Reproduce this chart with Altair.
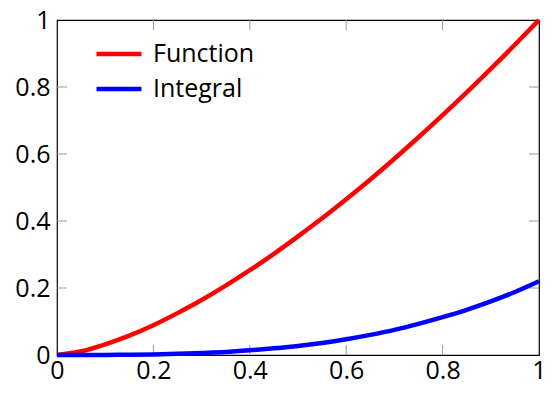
import altair as alt
import pandas as pd

xs = [0.0, 0.05, 0.1, 0.15, 0.2, 0.25, 0.3, 0.35, 0.4, 0.45, 0.5,
      0.55, 0.6, 0.65, 0.7, 0.75, 0.8, 0.85, 0.9, 0.95, 1.0]
function_vals = [0.0, 0.011, 0.032, 0.058, 0.089, 0.125, 0.164, 0.207, 0.253, 0.302, 0.354,
                 0.408, 0.465, 0.524, 0.586, 0.650, 0.716, 0.784, 0.854, 0.926, 1.0]
integral_vals = [0.0, 0.0, 0.0003, 0.0009, 0.0018, 0.0034, 0.006, 0.009, 0.014, 0.020, 0.027,
                 0.036, 0.047, 0.060, 0.075, 0.093, 0.113, 0.135, 0.160, 0.188, 0.220]
series_names = ["Function", "Integral"]
series_colors = ["#ff0000", "#0000ff"]
tick_values = [0, 0.2, 0.4, 0.6, 0.8, 1]
inner_ticks = [0.2, 0.4, 0.6, 0.8]

rows = []
for x, f, g in zip(xs, function_vals, integral_vals):
    rows.append({"x": x, "y": f, "series": series_names[0]})
    rows.append({"x": x, "y": g, "series": series_names[1]})
df = pd.DataFrame(rows)
ticks_df = pd.DataFrame({"t": inner_ticks})

FONT = "Open Sans"
FS = 25
W, H = 482, 335
TL = 10

xscale = alt.Scale(domain=[0, 1], nice=False)
yscale = alt.Scale(domain=[0, 1], nice=False)

lines = alt.Chart(df).mark_line(strokeWidth=4.5, interpolate="monotone").encode(
    x=alt.X("x:Q", scale=xscale, axis=alt.Axis(values=tick_values, title=None, tickSize=0,
            labelFontSize=FS, labelFont=FONT, labelColor="black", labelPadding=3,
            domain=False, grid=False, labelFlush=False, format="~g")),
    y=alt.Y("y:Q", scale=yscale, axis=alt.Axis(values=tick_values, title=None, tickSize=0,
            labelFontSize=FS, labelFont=FONT, labelColor="black", labelPadding=7,
            domain=False, grid=False, labelFlush=False, format="~g")),
    color=alt.Color("series:N", scale=alt.Scale(domain=series_names, range=series_colors),
                    legend=alt.Legend(title=None, orient="none", legendX=37, legendY=19,
                                      symbolType="stroke", symbolSize=2025, symbolStrokeWidth=4.5,
                                      clipHeight=30,
                                      labelFontSize=FS, labelFont=FONT, labelColor="black",
                                      labelOffset=9, rowPadding=5, padding=0)),
)

tick_color = "#999999"
bottom_ticks = alt.Chart(ticks_df).mark_rule(color=tick_color, strokeWidth=1).encode(
    x=alt.X("t:Q", scale=xscale), y=alt.value(H), y2=alt.value(H - TL))
top_ticks = alt.Chart(ticks_df).mark_rule(color=tick_color, strokeWidth=1).encode(
    x=alt.X("t:Q", scale=xscale), y=alt.value(0), y2=alt.value(TL))
left_ticks = alt.Chart(ticks_df).mark_rule(color=tick_color, strokeWidth=1).encode(
    y=alt.Y("t:Q", scale=yscale), x=alt.value(0), x2=alt.value(TL))
right_ticks = alt.Chart(ticks_df).mark_rule(color=tick_color, strokeWidth=1).encode(
    y=alt.Y("t:Q", scale=yscale), x=alt.value(W), x2=alt.value(W - TL))

chart = alt.layer(bottom_ticks, top_ticks, left_ticks, right_ticks, lines).properties(
    width=W, height=H,
    background="white",
    autosize=alt.AutoSizeParams(type="none"),
    padding={"left": 49, "top": 12, "right": 8, "bottom": 32},
).configure_view(stroke="black", strokeWidth=1.2)

chart.save("out.html", embed_options={"renderer": "svg", "actions": False})
